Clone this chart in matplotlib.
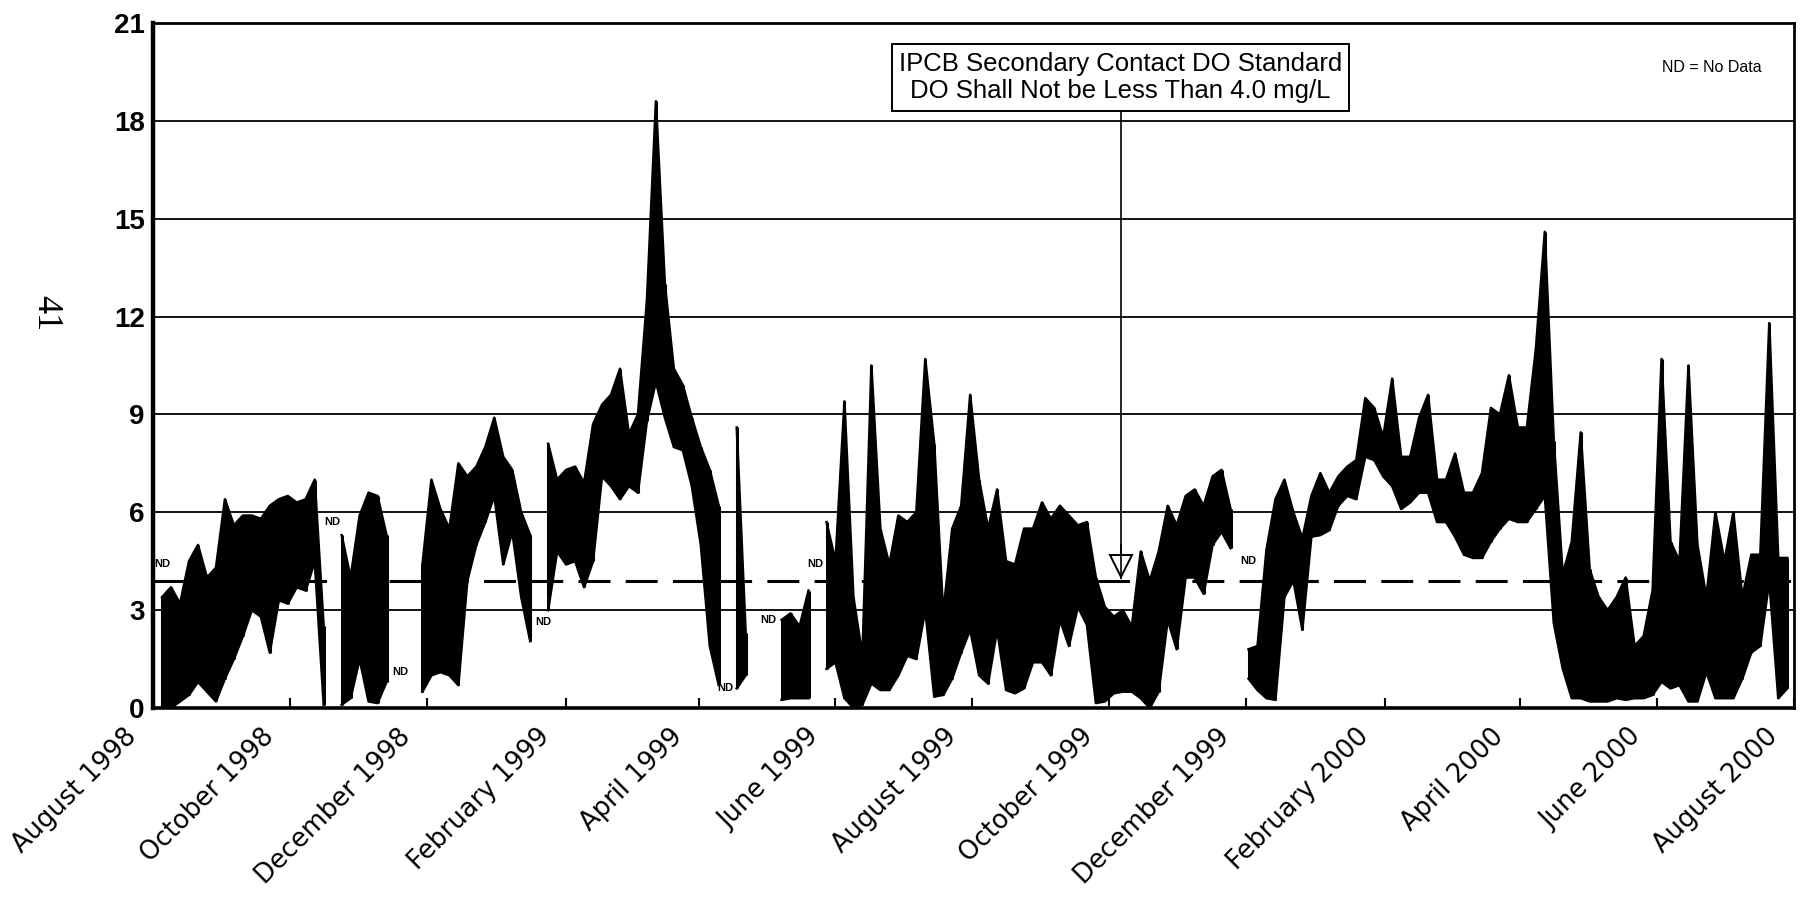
import matplotlib
matplotlib.use('Agg')
import matplotlib.pyplot as plt
import matplotlib.dates as mdates
import matplotlib.transforms as mtransforms
import numpy as np
import pandas as pd

plt.rcParams['lines.scale_dashes'] = False

nan = np.nan

# dissolved oxygen (mg/L), low / high envelope every 4 days from Aug 1 1998
do_low = [
    nan, 0.0, 0.0, 0.2, 0.4, 0.8, 0.5, 0.2, 0.9, 1.5,
    2.2, 3.0, 2.8, 1.7, 3.3, 3.2, 3.7, 3.6, 4.5, 0.1,
    nan, 0.1, 0.3, 1.5, 0.2, 0.15, 0.8, nan, nan, nan,
    0.5, 1.0, 1.1, 1.0, 0.7, 3.9, 5.0, 5.7, 6.5, 4.4,
    5.4, 3.4, 2.05, nan, 3.0, 4.8, 4.4, 4.5, 3.7, 4.5,
    7.1, 6.8, 6.4, 6.8, 6.6, 8.8, 10.0, 8.9, 8.0, 7.9,
    6.8, 5.0, 1.9, 0.7, nan, 0.6, 1.0, nan, nan, nan,
    0.25, 0.3, 0.3, 0.3, nan, 1.2, 1.4, 0.3, 0.0, 0.1,
    0.75, 0.55, 0.55, 1.0, 1.6, 1.5, 3.0, 0.35, 0.4, 0.9,
    1.7, 2.4, 1.0, 0.75, 2.4, 0.55, 0.45, 0.6, 1.4, 1.4,
    1.0, 2.7, 1.9, 3.1, 2.55, 0.15, 0.2, 0.45, 0.5, 0.5,
    0.3, 0.0, 0.5, 2.7, 1.8, 4.0, 4.0, 3.5, 5.0, 5.4,
    4.9, nan, 0.9, 0.55, 0.3, 0.25, 3.4, 3.9, 2.4, 5.25,
    5.3, 5.45, 6.2, 6.5, 6.4, 7.7, 7.6, 7.1, 6.8, 6.1,
    6.3, 6.6, 6.6, 5.7, 5.7, 5.25, 4.7, 4.6, 4.6, 5.1,
    5.5, 5.8, 5.7, 5.7, 6.1, 6.5, 2.6, 1.2, 0.3, 0.3,
    0.2, 0.2, 0.2, 0.3, 0.25, 0.3, 0.3, 0.4, 0.8, 0.6,
    0.7, 0.2, 0.2, 1.1, 0.3, 0.3, 0.3, 0.9, 1.7, 1.9,
    3.9, 0.3, 0.6,
]
do_high = [
    nan, 3.4, 3.7, 3.2, 4.5, 5.0, 4.0, 4.3, 6.4, 5.6,
    5.9, 5.9, 5.8, 6.2, 6.4, 6.5, 6.3, 6.4, 7.0, 2.5,
    nan, 5.3, 4.0, 5.9, 6.6, 6.5, 5.3, nan, nan, nan,
    4.4, 7.0, 6.1, 5.5, 7.5, 7.1, 7.4, 8.0, 8.9, 7.7,
    7.3, 6.0, 5.3, nan, 8.1, 7.0, 7.3, 7.4, 6.9, 8.7,
    9.3, 9.6, 10.4, 8.4, 9.0, 12.5, 18.6, 13.0, 10.4, 9.9,
    8.9, 8.0, 7.3, 6.2, nan, 8.6, 2.3, nan, nan, nan,
    2.7, 2.9, 2.5, 3.6, nan, 5.7, 4.5, 9.4, 3.4, 1.6,
    10.5, 5.5, 4.4, 5.9, 5.7, 6.0, 10.7, 8.1, 2.9, 5.5,
    6.2, 9.6, 7.0, 5.5, 6.7, 4.5, 4.4, 5.5, 5.5, 6.3,
    5.8, 6.2, 5.9, 5.6, 5.7, 4.0, 3.1, 2.8, 3.0, 2.5,
    4.8, 3.9, 4.8, 6.2, 5.6, 6.5, 6.7, 6.2, 7.1, 7.3,
    6.1, nan, 1.8, 1.9, 4.85, 6.4, 7.0, 6.0, 5.2, 6.5,
    7.2, 6.6, 7.1, 7.4, 7.6, 9.5, 9.2, 8.3, 10.1, 7.7,
    7.7, 8.9, 9.6, 7.0, 7.0, 7.8, 6.6, 6.6, 7.2, 9.2,
    9.0, 10.2, 8.6, 8.6, 11.0, 14.6, 8.2, 4.1, 5.1, 8.45,
    4.25, 3.4, 3.0, 3.4, 4.0, 1.9, 2.2, 3.6, 10.7, 5.1,
    4.5, 10.5, 5.0, 3.4, 6.0, 4.5, 6.0, 3.4, 4.7, 4.7,
    11.8, 4.6, 4.6,
]

standard = 3.9
nd_dates = ['1998-08-05', '1998-10-20', '1998-11-19', '1999-01-22', '1999-04-13',
            '1999-05-02', '1999-05-23', '1999-12-02']
nd_values = [4.4, 5.7, 1.1, 2.65, 0.6, 2.7, 4.4, 4.5]
arrow_date = '1999-10-06'

dates = pd.date_range('1998-08-01', periods=len(do_high), freq='4D')

fig = plt.figure(figsize=(18.01, 8.97), dpi=100)
ax = fig.add_axes([0.085, 0.2107, 0.9111, 0.7637])

ax.axhline(standard, color='black', lw=2.2, dashes=(23, 11), zorder=2)

# noisy trace drawn as a filled low/high envelope
ax.fill_between(dates, do_low, do_high, color='black', lw=0, zorder=3)
ax.plot(dates, do_high, color='black', lw=1.8, zorder=3)
ax.plot(dates, do_low, color='black', lw=1.8, zorder=3)
ax.vlines(dates, do_low, do_high, color='black', lw=2.2, zorder=3)

for d, v in zip(nd_dates, nd_values):
    ax.text(pd.Timestamp(d), v, 'ND', fontsize=8, fontweight='bold',
            ha='center', va='center', family='Liberation Sans', zorder=4)

# standard box with arrow
xa = mdates.date2num(pd.Timestamp(arrow_date))
trans = mtransforms.blended_transform_factory(ax.transData, ax.transAxes)
ax.text(xa, 0.9205, 'IPCB Secondary Contact DO Standard\nDO Shall Not be Less Than 4.0 mg/L',
        transform=trans, ha='center', va='center', fontsize=18.5,
        family='Liberation Sans', linespacing=1.2, zorder=6,
        bbox=dict(boxstyle='square,pad=0.28', fc='white', ec='black', lw=1.4))
ax.plot([xa, xa], [0.87, 0.19], color='black', lw=1.2, transform=trans, zorder=5)
ax.plot([xa], [4.35], marker='v', ms=16, mfc='white', mec='black', mew=1.4, zorder=5)
ax.plot([xa, xa], [4.0, 5.0], color='black', lw=1.2, zorder=6)

ax.set_ylim(0, 21)
ax.set_yticks(range(0, 22, 3))
ax.set_xlim(pd.Timestamp('1998-08-01'), pd.Timestamp('2000-08-01'))
ax.xaxis.set_major_locator(mdates.MonthLocator(bymonth=[2, 4, 6, 8, 10, 12]))
ax.xaxis.set_major_formatter(mdates.DateFormatter('%B %Y'))

ax.yaxis.grid(True, color='black', lw=1.3)
ax.set_axisbelow(True)
ax.tick_params(axis='y', length=0, pad=6)
ax.tick_params(axis='x', direction='in', length=7, width=1.5, pad=18)
for lab in ax.get_yticklabels():
    lab.set_fontsize(20)
    lab.set_fontweight('bold')
    lab.set_family('Liberation Sans')
offset = mtransforms.ScaledTranslation(-20 / 100, 0, fig.dpi_scale_trans)
for lab in ax.get_xticklabels():
    lab.set_fontsize(18.5)
    lab.set_family('DejaVu Sans')
    lab.set_rotation(45)
    lab.set_ha('right')
    lab.set_va('center')
    lab.set_rotation_mode('anchor')
    lab.set_transform(lab.get_transform() + offset)

ax.spines['left'].set_linewidth(3.2)
ax.spines['bottom'].set_linewidth(2.6)
ax.spines['top'].set_linewidth(2.0)
ax.spines['right'].set_linewidth(2.0)

fig.text(1712 / 1801, 1 - 67 / 897, 'ND = No Data', fontsize=11.5, family='Liberation Sans',
         ha='center', va='center')
fig.text(46 / 1801, 1 - 313 / 897, '41', fontsize=26, family='Liberation Serif',
         rotation=270, ha='center', va='center')

fig.savefig('out.png', dpi=100)
